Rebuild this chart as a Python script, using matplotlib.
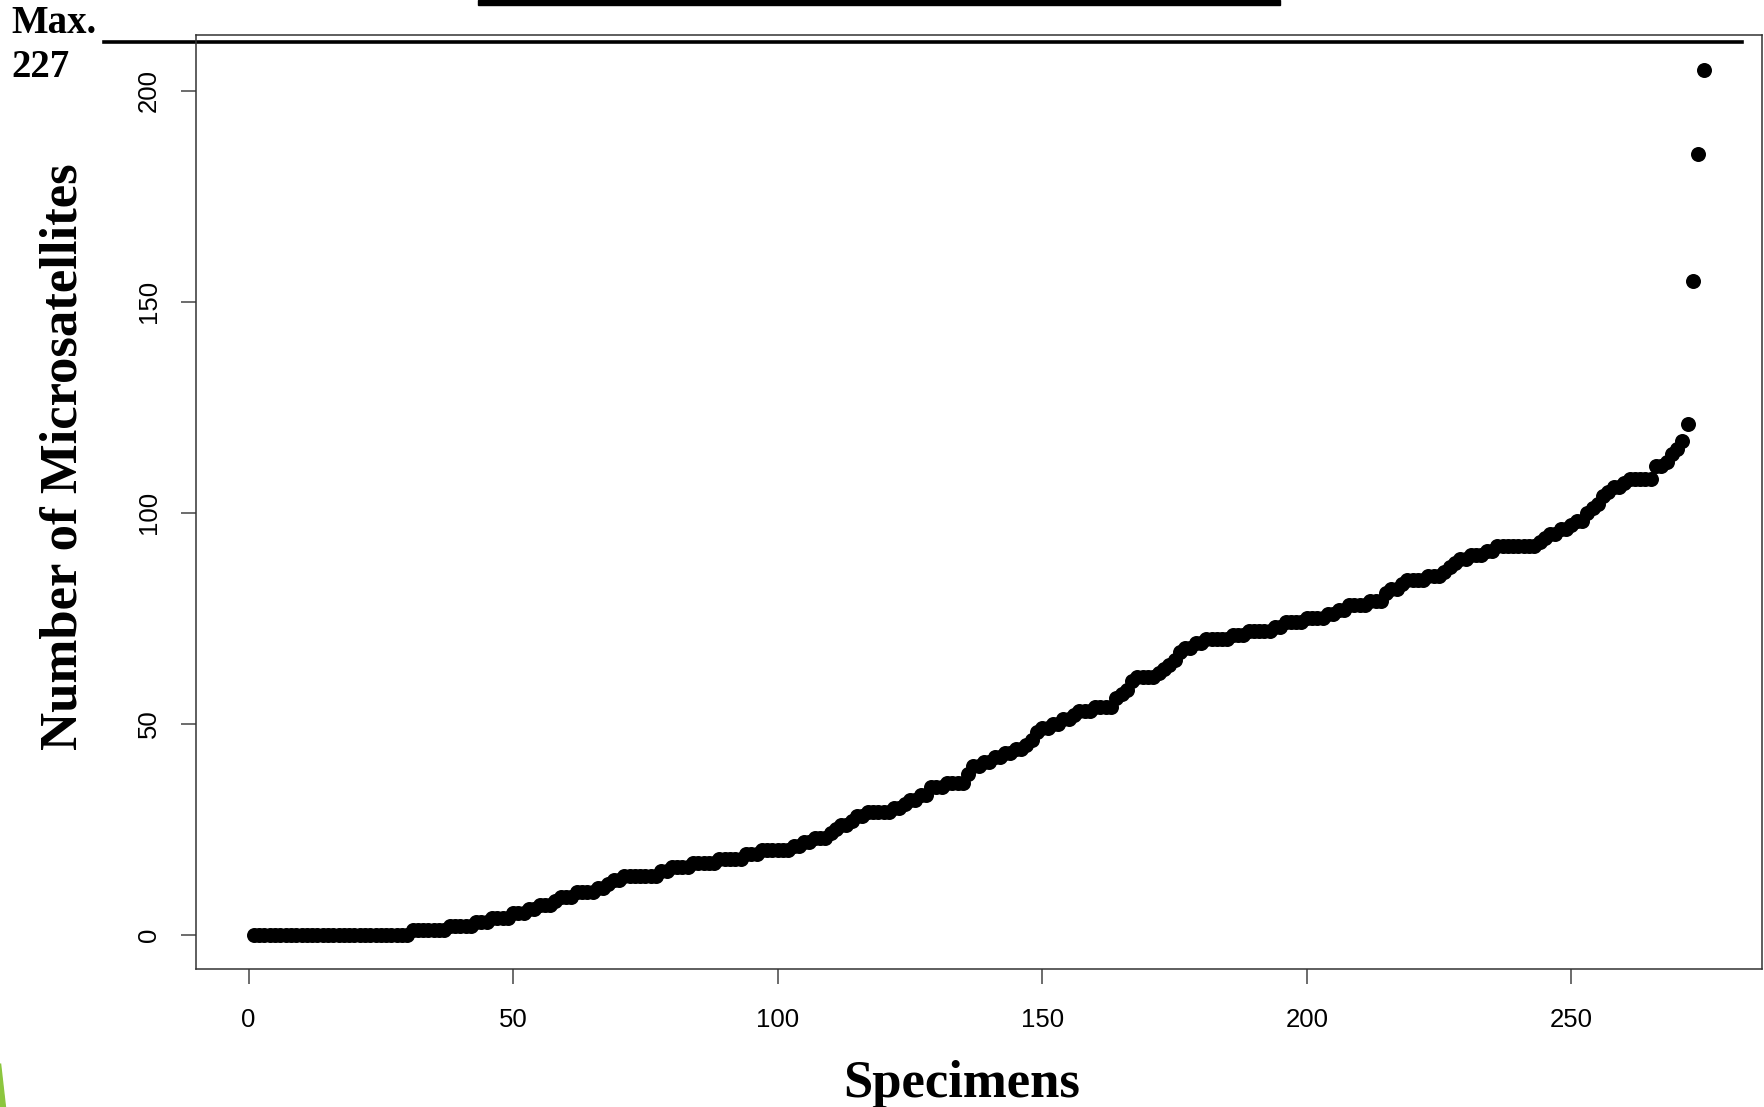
import numpy as np
import matplotlib
matplotlib.use("Agg")
import matplotlib.pyplot as plt
from matplotlib.patches import Rectangle, Polygon
from matplotlib.lines import Line2D

# sorted counts per specimen, stored as runs (value, how many specimens)
run_values = [0, 1, 2, 3, 4, 5, 6, 7, 8, 9, 10, 11, 12, 13, 14, 15, 16, 17, 18, 19,
              20, 21, 22, 23, 24, 25, 26, 27, 28, 29, 30, 31, 32, 33, 35, 36, 38, 40,
              41, 42, 43, 44, 45, 46, 48, 49, 50, 51, 52, 53, 54, 56, 57, 58, 60, 61,
              62, 63, 64, 65, 67, 68, 69, 70, 71, 72, 73, 74, 75, 76, 77, 78, 79, 81,
              82, 83, 84, 85, 86, 87, 88, 89, 90, 91, 92, 93, 94, 95, 96, 97, 98, 100,
              101, 102, 104, 105, 106, 107, 108, 111, 112, 114, 115, 117, 121, 155,
              185, 205]
run_counts = [30, 7, 5, 3, 4, 3, 2, 3, 1, 3, 4, 2, 1, 2, 7, 2, 4, 5, 5, 3,
              6, 2, 2, 3, 1, 1, 2, 1, 2, 5, 2, 1, 2, 2, 3, 4, 1, 2,
              2, 2, 2, 2, 1, 1, 1, 2, 2, 2, 1, 3, 4, 1, 1, 1, 1, 4,
              1, 1, 1, 1, 1, 2, 2, 5, 3, 5, 2, 4, 4, 2, 2, 4, 3, 1,
              2, 1, 4, 3, 1, 1, 1, 2, 3, 2, 8, 1, 1, 2, 2, 1, 2, 1,
              1, 1, 1, 1, 2, 1, 5, 2, 1, 1, 1, 1, 1, 1,
              1, 1]
x_ticks = [0, 50, 100, 150, 200, 250]
y_ticks = [0, 50, 100, 150, 200]
max_word = "Max."
max_value = "227"

microsats = np.repeat(run_values, run_counts)
specimens = np.arange(1, len(microsats) + 1)

W, H = 1765, 1107
fig = plt.figure(figsize=(W / 100, H / 100), dpi=100)
ax = fig.add_axes([195.9 / W, 1 - 969.2 / H, (1761.6 - 195.9) / W, (969.2 - 34.9) / H])

ax.plot(specimens, microsats, 'o', color='black', markersize=10.8, markeredgewidth=0)

# R style limits (4% padding)
n = len(microsats)
ax.set_xlim(1 - 0.04 * (n - 1), n + 0.04 * (n - 1))
ymax = microsats.max()
ax.set_ylim(-0.04 * ymax, ymax * 1.04)

ax.set_xticks(x_ticks)
ax.set_yticks(y_ticks)
for s in ax.spines.values():
    s.set_color('#333333')
    s.set_linewidth(1.1)
ax.tick_params(length=10.8, width=1.1, color='#444444', labelsize=18.5, labelcolor='black')
ax.tick_params(axis='x', pad=17)
ax.tick_params(axis='y', pad=14.5, labelrotation=90)
for lab in ax.get_yticklabels():
    lab.set_va('center')
for lab in ax.get_xticklabels() + ax.get_yticklabels():
    lab.set_family('Liberation Sans')

# line marking the top, drawn across the margin
ax.add_line(Line2D([-0.0587, 0.9875], [211.5, 211.5], transform=ax.get_yaxis_transform(),
                   color='black', linewidth=2.6, clip_on=False))

serif = 'Liberation Serif'
fig.text(77 / W, 1 - 456.4 / H, 'Number of Microsatellites', rotation=90,
         rotation_mode='anchor', ha='center', va='baseline',
         family=serif, weight='bold', fontsize=38)
fig.text(961.3 / W, 1 - 1097 / H, 'Specimens', ha='center', va='baseline',
         family=serif, weight='bold', fontsize=38)
fig.text(11.7 / W, 1 - 33.3 / H, max_word, ha='left', va='baseline',
         family=serif, weight='bold', fontsize=28)
fig.text(11.7 / W, 1 - 77.3 / H, max_value, ha='left', va='baseline',
         family=serif, weight='bold', fontsize=28)

# slide decorations: bar at top, green corner sliver
fig.add_artist(Rectangle((478 / W, 1 - 4.5 / H), 802 / W, 4.5 / H,
                         transform=fig.transFigure, color='black'))
fig.add_artist(Polygon([(0, 1 - 1063 / H), (0, 0), (5 / W, 0)], closed=True,
                       transform=fig.transFigure, color='#8cc63e'))

fig.savefig('out.png', dpi=100)
